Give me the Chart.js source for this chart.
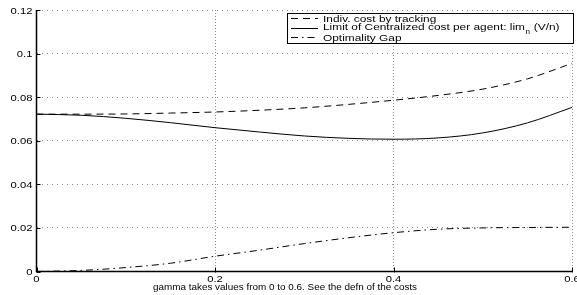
<!DOCTYPE html>
<html>
<head>
<meta charset="utf-8">
<script src="https://cdn.jsdelivr.net/npm/chart.js@4/dist/chart.umd.min.js"></script>
<style>
html,body{margin:0;padding:0;background:#fff;}
#wrap{width:577px;height:295px;position:relative;}
</style>
</head>
<body>
<div id="wrap"><canvas id="c" width="577" height="295"></canvas></div>
<script>
const gammaValues = [0, 0.05, 0.1, 0.15, 0.2, 0.25, 0.3, 0.35, 0.4, 0.45, 0.5, 0.55, 0.6];
const indivCost = [0.0722, 0.0722, 0.0723, 0.0727, 0.0732, 0.0740, 0.0751, 0.0767, 0.0786, 0.0808, 0.0837, 0.0884, 0.0955];
const centralizedCost = [0.0722, 0.0717, 0.0703, 0.0683, 0.0660, 0.0640, 0.0622, 0.0611, 0.0607, 0.0613, 0.0636, 0.0682, 0.0753];
const optimalityGap = [0, 0.0005, 0.0018, 0.0038, 0.0070, 0.0098, 0.0128, 0.0155, 0.0178, 0.0194, 0.0200, 0.0202, 0.0203];
const xTickLabels = ["0", "0.2", "0.4", "0.6"];
const yTickLabels = ["0", "0.02", "0.04", "0.06", "0.08", "0.1", "0.12"];
const seriesNames = ["Indiv. cost by tracking", "Limit of Centralized cost per agent: lim", "Optimality Gap"];
const xTitle = "gamma takes values from 0 to 0.6. See the defn of the costs";

const FONT = "'Liberation Sans', Arial, Helvetica, sans-serif";
const pts = a => a.map((v, i) => ({x: gammaValues[i], y: v}));
const dashStyles = [[7, 5], [], [7, 4, 1.5, 4]];

function txt(ctx, s, x, y, size, sx, align) {
  ctx.save();
  ctx.translate(x, y);
  ctx.scale(sx, 1);
  ctx.font = size + 'px ' + FONT;
  ctx.fillStyle = '#000';
  ctx.textAlign = align || 'left';
  ctx.textBaseline = 'alphabetic';
  ctx.fillText(s, 0, 0);
  const w = ctx.measureText(s).width * sx;
  ctx.restore();
  return w;
}

const textPlugin = {
  id: 'stretchedText',
  afterDraw(chart) {
    const ctx = chart.ctx, xs = chart.scales.x, ys = chart.scales.y;
    xTickLabels.forEach(l => txt(ctx, l, xs.getPixelForValue(parseFloat(l)), 282, 9, 1.25, 'center'));
    yTickLabels.forEach(l => txt(ctx, l, 32.5, ys.getPixelForValue(parseFloat(l)) + 3.5, 9, 1.25, 'right'));
    txt(ctx, xTitle, 285, 290, 9, 1.1, 'center');
  }
};

const legendPlugin = {
  id: 'matlabLegend',
  afterDraw(chart) {
    const ctx = chart.ctx;
    const bx = 287, by = 13, bw = 286, bh = 30;
    ctx.save();
    ctx.fillStyle = '#fff';
    ctx.fillRect(bx, by, bw, bh);
    ctx.strokeStyle = '#000';
    ctx.lineWidth = 1;
    ctx.setLineDash([]);
    ctx.strokeRect(bx + 0.5, by + 0.5, bw, bh);
    const lineY = [18.5, 28.5, 37.5];
    const baseY = [21.5, 30, 40.5];
    chart.data.datasets.forEach((ds, i) => {
      ctx.strokeStyle = '#000';
      ctx.lineWidth = 1;
      ctx.setLineDash(ds.borderDash || []);
      ctx.beginPath();
      ctx.moveTo(291, lineY[i]);
      ctx.lineTo(318, lineY[i]);
      ctx.stroke();
      ctx.setLineDash([]);
      let x = 323;
      x += txt(ctx, seriesNames[i], x, baseY[i], 9.5, 1.25, 'left');
      if (i === 1) {
        x += txt(ctx, 'n', x + 0.5, baseY[i] + 3.5, 6.5, 1.25, 'left') + 1;
        txt(ctx, ' (V/n)', x, baseY[i], 9.5, 1.25, 'left');
      }
    });
    ctx.restore();
  }
};

const axesPlugin = {
  id: 'solidAxes',
  afterDatasetsDraw(chart) {
    const a = chart.chartArea, ctx = chart.ctx;
    ctx.save();
    ctx.strokeStyle = '#000';
    ctx.setLineDash([]);
    ctx.lineWidth = 1.5;
    ctx.beginPath();
    ctx.moveTo(a.left, a.top);
    ctx.lineTo(a.left, a.bottom);
    ctx.lineTo(a.right, a.bottom);
    ctx.stroke();
    ctx.lineWidth = 1;
    const xs = chart.scales.x, ys = chart.scales.y;
    xTickLabels.forEach(l => {
      const px = Math.round(xs.getPixelForValue(parseFloat(l))) + 0.5;
      ctx.beginPath(); ctx.moveTo(px, a.bottom + 1); ctx.lineTo(px, a.bottom - 4); ctx.stroke();
    });
    yTickLabels.forEach(l => {
      const py = Math.round(ys.getPixelForValue(parseFloat(l))) + 0.5;
      ctx.beginPath(); ctx.moveTo(a.left, py); ctx.lineTo(a.left + 4, py); ctx.stroke();
    });
    ctx.restore();
  }
};

new Chart(document.getElementById('c'), {
  type: 'line',
  data: {
    datasets: [
      {label: seriesNames[0], data: pts(indivCost), borderColor: '#000', borderWidth: 1, borderDash: dashStyles[0], pointRadius: 0, fill: false, cubicInterpolationMode: 'monotone'},
      {label: seriesNames[1], data: pts(centralizedCost), borderColor: '#000', borderWidth: 1, borderDash: dashStyles[1], pointRadius: 0, fill: false, cubicInterpolationMode: 'monotone'},
      {label: seriesNames[2], data: pts(optimalityGap), borderColor: '#000', borderWidth: 1, borderDash: dashStyles[2], pointRadius: 0, fill: false, cubicInterpolationMode: 'monotone'}
    ]
  },
  options: {
    responsive: false,
    animation: false,
    devicePixelRatio: 1,
    layout: {padding: {top: 10, right: 5, left: 0, bottom: 0}},
    plugins: {legend: {display: false}, tooltip: {enabled: false}},
    scales: {
      x: {
        type: 'linear', min: 0, max: 0.6,
        afterBuildTicks: s => { s.ticks = xTickLabels.map(v => ({value: parseFloat(v)})); },
        ticks: {display: false},
        grid: {color: '#8c8c8c', lineWidth: 1, drawTicks: false},
        border: {display: false, dash: [1, 2]},
        afterFit: s => { s.height = 23.5; }
      },
      y: {
        type: 'linear', min: 0, max: 0.12,
        afterBuildTicks: s => { s.ticks = yTickLabels.map(v => ({value: parseFloat(v)})); },
        ticks: {display: false},
        grid: {color: '#8c8c8c', lineWidth: 1, drawTicks: false},
        border: {display: false, dash: [1, 4]},
        afterFit: s => { s.width = 36.5; }
      }
    }
  },
  plugins: [axesPlugin, legendPlugin, textPlugin]
});
</script>
</body>
</html>
